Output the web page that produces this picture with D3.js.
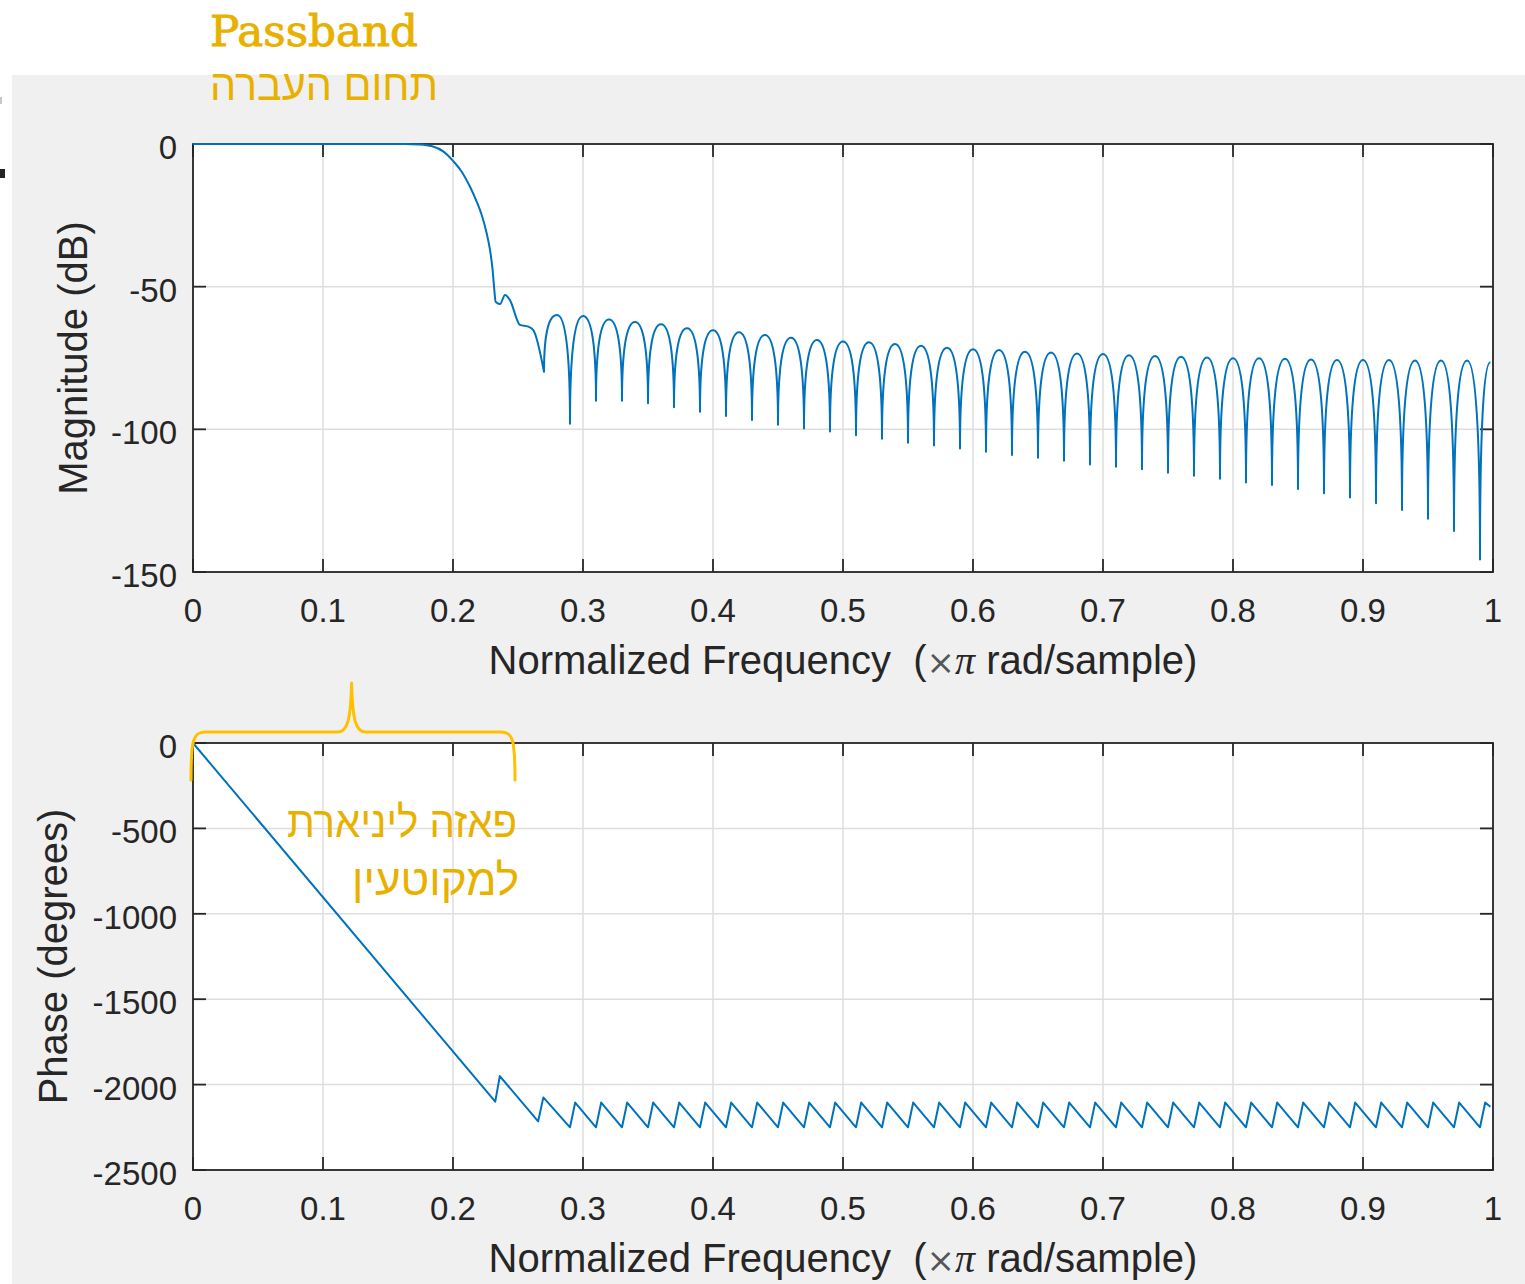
<!DOCTYPE html>
<html>
<head>
<meta charset="utf-8">
<title>FIR filter - magnitude and phase</title>
<script src="https://cdn.jsdelivr.net/npm/d3@7/dist/d3.min.js"></script>
<style>
    body { margin: 0; background: #ffffff; }
    svg { display: block; }
    .tick-label { font-family: "Liberation Sans", Arial, sans-serif; font-size: 33px; fill: #262626; }
    .axis-title { font-family: "Liberation Sans", Arial, sans-serif; font-size: 40px; fill: #262626; white-space: pre; }
    .note { fill: #e8b100; }
</style>
</head>
<body>
<svg id="chart"></svg>
<script>
    var width = 1525;
    var height = 1284;

    // tick values
    var freqTicks = [0, 0.1, 0.2, 0.3, 0.4, 0.5, 0.6, 0.7, 0.8, 0.9, 1];
    var magTicks = [0, -50, -100, -150];
    var phaseTicks = [0, -500, -1000, -1500, -2000, -2500];

    // magnitude: passband and transition band
    var transFreq = [0, 0.05, 0.10, 0.15, 0.163, 0.1740, 0.1840, 0.1925, 0.2002, 0.2067, 0.2131, 0.2182, 0.2221, 0.2259,
        0.2285, 0.2305, 0.2318, 0.2328, 0.2362, 0.2400, 0.2438, 0.2515, 0.2579, 0.2618, 0.27];
    var transDb = [0, 0, 0, 0, 0, -0.15, -0.8, -2.6, -6.0, -9.7, -15.0, -20.2, -24.9, -31.3,
        -37.2, -44.2, -51.2, -55.3, -56.1, -52.9, -54.7, -63.4, -64.0, -65.2, -79.8];

    // magnitude: stopband nulls and sidelobe peaks
    var nullFreq = [0.27, 0.29, 0.31, 0.33, 0.35, 0.37, 0.39, 0.41, 0.43, 0.45, 0.47, 0.49, 0.51, 0.53, 0.55, 0.57, 0.59,
        0.61, 0.63, 0.65, 0.67, 0.69, 0.71, 0.73, 0.75, 0.77, 0.79, 0.81, 0.83, 0.85, 0.87, 0.89, 0.91, 0.93, 0.95, 0.97, 0.99];
    var nullDb = [-79.8, -98.0, -90.0, -90.0, -90.9, -92.3, -93.8, -95.3, -96.7, -98.4, -99.7, -100.8, -102.1, -103.3, -104.7, -105.7, -106.7,
        -107.9, -109.0, -110.0, -111.0, -112.3, -113.1, -114.0, -115.2, -116.3, -117.3, -118.6, -119.5, -120.9, -122.4, -123.9, -125.9, -128.3, -131.3, -135.6, -145.6];
    var peakFreq = [0.28, 0.30, 0.32, 0.34, 0.36, 0.38, 0.40, 0.42, 0.44, 0.46, 0.48, 0.50, 0.52, 0.54, 0.56, 0.58,
        0.60, 0.62, 0.64, 0.66, 0.68, 0.70, 0.72, 0.74, 0.76, 0.78, 0.80, 0.82, 0.84, 0.86, 0.88, 0.90, 0.92, 0.94, 0.96, 0.98];
    var peakDb = [-59.9, -60.3, -61.5, -62.4, -63.2, -64.6, -65.3, -66.0, -66.9, -67.9, -68.7, -69.2, -69.5, -70.1, -70.7, -71.4,
        -71.9, -72.2, -72.8, -73.1, -73.4, -73.6, -74.0, -74.3, -74.6, -74.8, -75.1, -75.1, -75.3, -75.5, -75.7, -75.7, -75.7, -75.9, -75.9, -75.9];
    var magEndFreq = [0.998];
    var magEndDb = [-76.5];

    // phase (degrees)
    var phaseFreq = [0, 0.2325, 0.236, 0.2655, 0.2695,
        0.29, 0.294, 0.31, 0.314, 0.33, 0.334, 0.35, 0.354, 0.37, 0.374, 0.39, 0.394, 0.41, 0.414, 0.43, 0.434,
        0.45, 0.454, 0.47, 0.474, 0.49, 0.494, 0.51, 0.514, 0.53, 0.534, 0.55, 0.554, 0.57, 0.574, 0.59, 0.594,
        0.61, 0.614, 0.63, 0.634, 0.65, 0.654, 0.67, 0.674, 0.69, 0.694, 0.71, 0.714, 0.73, 0.734, 0.75, 0.754,
        0.77, 0.774, 0.79, 0.794, 0.81, 0.814, 0.83, 0.834, 0.85, 0.854, 0.87, 0.874, 0.89, 0.894, 0.91, 0.914,
        0.93, 0.934, 0.95, 0.954, 0.97, 0.974, 0.99, 0.994, 0.998];
    var phaseDeg = [0, -2100, -1950, -2215, -2075,
        -2250, -2105, -2250, -2105, -2250, -2105, -2250, -2105, -2250, -2105, -2250, -2105, -2250, -2105, -2250, -2105,
        -2250, -2105, -2250, -2105, -2250, -2105, -2250, -2105, -2250, -2105, -2250, -2105, -2250, -2105, -2250, -2105,
        -2250, -2105, -2250, -2105, -2250, -2105, -2250, -2105, -2250, -2105, -2250, -2105, -2250, -2105, -2250, -2105,
        -2250, -2105, -2250, -2105, -2250, -2105, -2250, -2105, -2250, -2105, -2250, -2105, -2250, -2105, -2250, -2105,
        -2250, -2105, -2250, -2105, -2250, -2105, -2250, -2105, -2130];

    var lineColor = "#0072bd";
    var axisColor = "#262626";
    var gridColor = "#dedede";
    var tickLen = 13;

    var svg = d3.select("#chart").attr("width", width).attr("height", height);

    // page and figure background
    svg.append("rect").attr("width", width).attr("height", height).attr("fill", "#ffffff");
    svg.append("rect").attr("x", 12).attr("y", 75).attr("width", width - 12).attr("height", height - 75).attr("fill", "#f0f0f0");
    svg.append("rect").attr("x", 0).attr("y", 97).attr("width", 2).attr("height", 7).attr("fill", "#c8c8c8");
    svg.append("rect").attr("x", 0).attr("y", 169).attr("width", 5).attr("height", 9).attr("fill", "#222222");

    var xScale = d3.scaleLinear().domain([0, 1]).range([193, 1493]);
    var yMag = d3.scaleLinear().domain([-150, 0]).range([572, 144]);
    var yPhase = d3.scaleLinear().domain([-2500, 0]).range([1170, 743]);

    function drawAxes(yScale, yTicks, yTitle, yTitleX) {
        var g = svg.append("g");
        var x0 = xScale.range()[0], x1 = xScale.range()[1];
        var yb = yScale.range()[0], yt = yScale.range()[1];

        g.append("rect").attr("x", x0).attr("y", yt).attr("width", x1 - x0).attr("height", yb - yt).attr("fill", "#ffffff");

        // grid
        g.selectAll(".vgrid").data(freqTicks).enter().append("line")
            .attr("x1", function (d) { return xScale(d); }).attr("x2", function (d) { return xScale(d); })
            .attr("y1", yt).attr("y2", yb)
            .attr("stroke", gridColor).attr("stroke-width", 1.5);
        g.selectAll(".hgrid").data(yTicks).enter().append("line")
            .attr("x1", x0).attr("x2", x1)
            .attr("y1", function (d) { return yScale(d); }).attr("y2", function (d) { return yScale(d); })
            .attr("stroke", gridColor).attr("stroke-width", 1.5);

        // tick marks on all four sides, pointing inwards
        freqTicks.forEach(function (d) {
            g.append("line").attr("x1", xScale(d)).attr("x2", xScale(d)).attr("y1", yb).attr("y2", yb - tickLen)
                .attr("stroke", axisColor).attr("stroke-width", 1.8);
            g.append("line").attr("x1", xScale(d)).attr("x2", xScale(d)).attr("y1", yt).attr("y2", yt + tickLen)
                .attr("stroke", axisColor).attr("stroke-width", 1.8);
        });
        yTicks.forEach(function (d) {
            g.append("line").attr("x1", x0).attr("x2", x0 + tickLen).attr("y1", yScale(d)).attr("y2", yScale(d))
                .attr("stroke", axisColor).attr("stroke-width", 1.8);
            g.append("line").attr("x1", x1).attr("x2", x1 - tickLen).attr("y1", yScale(d)).attr("y2", yScale(d))
                .attr("stroke", axisColor).attr("stroke-width", 1.8);
        });

        // box
        g.append("rect").attr("x", x0).attr("y", yt).attr("width", x1 - x0).attr("height", yb - yt)
            .attr("fill", "none").attr("stroke", axisColor).attr("stroke-width", 1.8);

        // tick labels
        g.selectAll(".xl").data(freqTicks).enter().append("text")
            .attr("class", "tick-label")
            .attr("x", function (d) { return xScale(d); })
            .attr("y", yb + 50)
            .attr("text-anchor", "middle")
            .text(function (d) { return d; });
        g.selectAll(".yl").data(yTicks).enter().append("text")
            .attr("class", "tick-label")
            .attr("x", 177)
            .attr("y", function (d) { return yScale(d) + 15; })
            .attr("text-anchor", "end")
            .text(function (d) { return d; });

        // x title
        var xt = g.append("text").attr("class", "axis-title")
            .attr("x", (x0 + x1) / 2).attr("y", yb + 102).attr("text-anchor", "middle");
        xt.append("tspan").text("Normalized Frequency  (");
        xt.append("tspan").attr("font-family", "'DejaVu Serif', serif").attr("font-size", 34).attr("fill", "#555").text("\u00d7");
        xt.append("tspan").attr("font-family", "'Liberation Serif', serif").attr("font-style", "italic").text("\u03c0");
        xt.append("tspan").text(" rad/sample)");

        // y title
        g.append("text").attr("class", "axis-title")
            .attr("transform", "translate(" + yTitleX + "," + (yt + yb) / 2 + ") rotate(-90)")
            .attr("text-anchor", "middle")
            .text(yTitle);
    }

    drawAxes(yMag, magTicks, "Magnitude (dB)", 87);
    drawAxes(yPhase, phaseTicks, "Phase (degrees)", 67);

    // magnitude curve: transition band through d3.line, stopband lobes as arches
    var transPts = d3.range(transFreq.length).map(function (i) { return [transFreq[i], transDb[i]]; });
    var magPath = d3.path();
    d3.line()
        .x(function (d) { return xScale(d[0]); })
        .y(function (d) { return yMag(d[1]); })
        .curve(d3.curveMonotoneX)
        .context(magPath)(transPts);

    function riseTo(p, xa, ya, xb, yb) {
        p.bezierCurveTo(xa, ya + 0.6 * (yb - ya), xa + 0.3 * (xb - xa), yb, xb, yb);
    }
    function fallTo(p, xa, ya, xb, yb) {
        p.bezierCurveTo(xb - 0.3 * (xb - xa), ya, xb, yb + 0.6 * (ya - yb), xb, yb);
    }
    for (var i = 0; i < peakFreq.length; i++) {
        riseTo(magPath, xScale(nullFreq[i]), yMag(nullDb[i]), xScale(peakFreq[i]), yMag(peakDb[i]));
        fallTo(magPath, xScale(peakFreq[i]), yMag(peakDb[i]), xScale(nullFreq[i + 1]), yMag(nullDb[i + 1]));
    }
    var lastNull = nullFreq.length - 1;
    riseTo(magPath, xScale(nullFreq[lastNull]), yMag(nullDb[lastNull]), xScale(magEndFreq[0]), yMag(magEndDb[0]));

    svg.append("path")
        .attr("d", magPath.toString())
        .attr("fill", "none")
        .attr("stroke", lineColor)
        .attr("stroke-width", 2)
        .attr("stroke-linejoin", "round");

    // phase curve
    var phaseLine = d3.line()
        .x(function (d, i) { return xScale(phaseFreq[i]); })
        .y(function (d, i) { return yPhase(phaseDeg[i]); });
    svg.append("path")
        .attr("d", phaseLine(phaseFreq))
        .attr("fill", "none")
        .attr("stroke", lineColor)
        .attr("stroke-width", 2)
        .attr("stroke-linejoin", "round");

    // annotations
    svg.append("text").attr("class", "note")
        .attr("x", 210).attr("y", 46)
        .attr("font-family", "'DejaVu Serif', serif").attr("font-size", 42)
        .attr("stroke", "#e8b100").attr("stroke-width", 0.9)
        .attr("textLength", 208).attr("lengthAdjust", "spacingAndGlyphs")
        .text("Passband");
    svg.append("text").attr("class", "note")
        .attr("x", 210).attr("y", 100)
        .attr("font-family", "'Liberation Sans', 'DejaVu Sans', sans-serif").attr("font-size", 43)
        .attr("textLength", 228).attr("lengthAdjust", "spacingAndGlyphs")
        .text("תחום העברה");
    svg.append("text").attr("class", "note")
        .attr("x", 517).attr("y", 837).attr("text-anchor", "end")
        .attr("font-family", "'Liberation Sans', 'DejaVu Sans', sans-serif").attr("font-size", 43)
        .attr("textLength", 230).attr("lengthAdjust", "spacingAndGlyphs")
        .text("פאזה ליניארת");
    svg.append("text").attr("class", "note")
        .attr("x", 519).attr("y", 895).attr("text-anchor", "end")
        .attr("font-family", "'Liberation Sans', 'DejaVu Sans', sans-serif").attr("font-size", 43)
        .attr("textLength", 167).attr("lengthAdjust", "spacingAndGlyphs")
        .text("למקוטעין");

    // curly bracket over the passband of the phase plot
    var bStart = 0, bTip = 0.122, bEnd = 0.2477;
    var phaseTop = yPhase(0);
    var bx0 = xScale(bStart) - 2, bxm = xScale(bTip), bx1 = xScale(bEnd);
    var yLow = phaseTop + 37, yBar = phaseTop - 11, yTip = phaseTop - 60;
    var br = d3.path();
    br.moveTo(bx0, yLow);
    br.bezierCurveTo(bx0, yBar + 8, bx0 + 2, yBar, bx0 + 14, yBar);
    br.lineTo(bxm - 14, yBar);
    br.bezierCurveTo(bxm - 4, yBar, bxm - 1, yBar - 12, bxm, yTip);
    br.bezierCurveTo(bxm + 1, yBar - 12, bxm + 4, yBar, bxm + 14, yBar);
    br.lineTo(bx1 - 14, yBar);
    br.bezierCurveTo(bx1 - 2, yBar, bx1, yBar + 8, bx1, yLow);
    svg.append("path")
        .attr("d", br.toString())
        .attr("fill", "none")
        .attr("stroke", "#ffc000")
        .attr("stroke-width", 3)
        .attr("stroke-linecap", "round")
        .attr("stroke-linejoin", "round");
</script>
</body>
</html>
